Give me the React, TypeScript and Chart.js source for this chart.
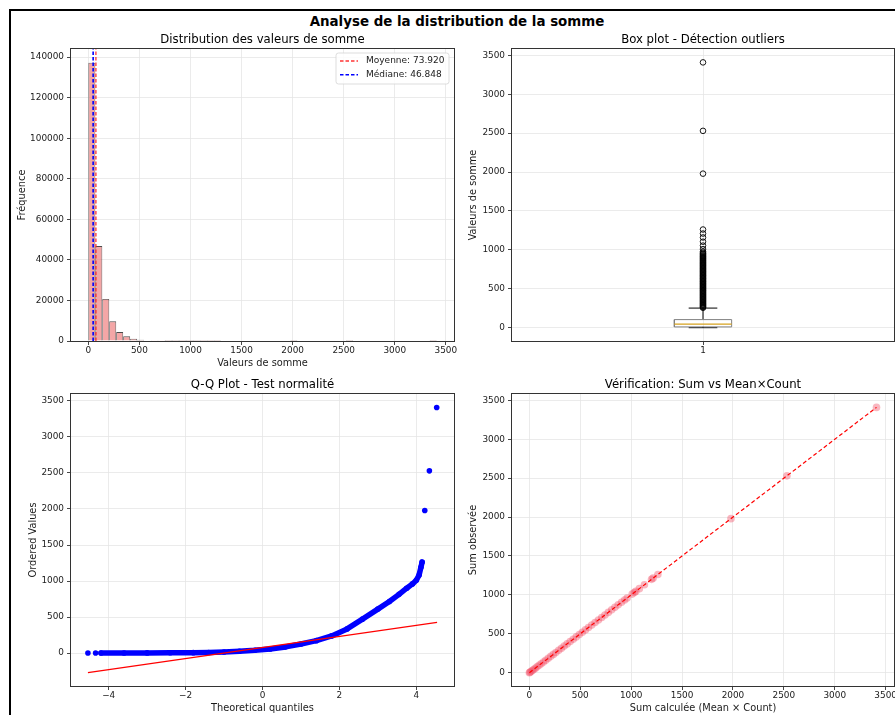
import React, { useEffect, useRef } from 'react';
import { Chart, registerables } from 'chart.js';

Chart.register(...registerables);

const FONT = "'DejaVu Sans', 'Liberation Sans', sans-serif";
const TEXT = '#1a1a1a';
const GRID = '#e6e6e6';
const SPINE = '#333333';

// ---------------- Panel 1 : histogram ----------------
const HIST_MIN = 0;
const HIST_MAX = 3410;
const HIST_COUNTS = [
  137200, 46800, 20700, 9700, 4400, 2300, 1100, 600, 300, 160,
  80, 40, 22, 12, 6, 4, 2, 2, 1, 0,
  0, 0, 0, 0, 0, 0, 0, 0, 0, 1,
  0, 0, 0, 0, 0, 0, 0, 1, 0, 0,
  0, 0, 0, 0, 0, 0, 0, 0, 0, 1,
];
const MEAN = 73.92;
const MEDIAN = 46.848;
const HIST_X_TICKS = [0, 500, 1000, 1500, 2000, 2500, 3000, 3500];
const HIST_Y_TICKS = [0, 20000, 40000, 60000, 80000, 100000, 120000, 140000];
const HIST_Y_MAX = 144000;

// ---------------- Panel 2 : box plot ----------------
const BOX_Q1 = 10;
const BOX_MEDIAN = 46.848;
const BOX_Q3 = 104;
const BOX_WHISKER_LO = 0;
const BOX_WHISKER_HI = 252;
const BOX_OUTLIERS = [
  256, 265, 274, 283, 292, 301, 311, 320, 330, 339, 349, 358, 368, 377, 387, 396,
  406, 415, 425, 434, 444, 454, 463, 473, 482, 492, 502, 511, 521, 531, 540, 550,
  560, 569, 579, 589, 598, 608, 618, 628, 637, 647, 657, 667, 676, 686, 696, 706,
  716, 725, 735, 745, 755, 765, 775, 785, 795, 805, 815, 825, 835, 845, 856, 866,
  876, 887, 897, 908, 918, 929, 940, 951, 962, 977,
  1010, 1055, 1105, 1160, 1210, 1262, 1980, 2530, 3410,
];
const BOX_X_TICKS = [1];
const VAL_TICKS = [0, 500, 1000, 1500, 2000, 2500, 3000, 3500];

// ---------------- Panel 3 : Q-Q plot ----------------
const QQ_CURVE_X = [-4.2, -3.6, -3.0, -2.4, -1.8, -1.4, -1.0, -0.6, -0.2, 0.2, 0.6, 1.0, 1.4, 1.8, 2.2, 2.6, 3.0, 3.3, 3.55, 3.75, 3.9, 4.0, 4.07, 4.12, 4.15];
const QQ_CURVE_Y = [0, 1, 1.5, 3, 5, 8, 14, 24, 38, 57, 85, 125, 172, 238, 335, 470, 610, 715, 815, 900, 960, 1010, 1080, 1190, 1262];
const QQ_OUT_X = [-4.54, -4.34, 4.22, 4.34, 4.53];
const QQ_OUT_Y = [0, 0, 1980, 2530, 3410];
const QQ_LINE_X = [-4.54, 4.54];
const QQ_LINE_Y = [-273, 426];
const QQ_X_TICKS = [-4, -2, 0, 2, 4];

// ---------------- Panel 4 : Sum vs Mean x Count ----------------
const SUM_CALC = [
  0, 5, 15, 28, 42, 58, 75, 95, 115, 138, 160, 185, 210, 235, 260, 288, 315, 342,
  370, 400, 430, 460, 490, 520, 550, 580, 612, 645, 678, 710, 742, 775, 808, 840,
  872, 905, 935, 960, 1010, 1030, 1045, 1080, 1130, 1200, 1215, 1262, 1980, 2530, 3410,
];
const SUM_OBS = SUM_CALC.slice();
const DIAG_X = [0, 3410];
const DIAG_Y = [0, 3410];

// ---------------- helpers ----------------
const minusFmt = (v: number) => (v < 0 ? '\u2212' + Math.abs(v) : String(v));

function scaleCfg(o: {
  axis: 'x' | 'y'; min: number; max: number; ticks: number[];
  title?: string; titlePad?: number; size: number; fmt?: (v: number) => string;
}) {
  const isX = o.axis === 'x';
  return {
    type: 'linear',
    position: isX ? 'bottom' : 'left',
    min: o.min,
    max: o.max,
    offset: false,
    afterBuildTicks: (s: any) => { s.ticks = o.ticks.map((v) => ({ value: v })); },
    afterFit: (s: any) => { if (isX) s.height = o.size; else s.width = o.size; },
    grid: {
      display: true, offset: false, color: GRID, lineWidth: 0.8,
      drawTicks: true, tickLength: 4, tickColor: SPINE, tickWidth: 0.9,
    },
    border: { display: false },
    ticks: {
      font: { family: FONT, size: 8.9 },
      color: TEXT,
      padding: isX ? 0.5 : 3,
      maxRotation: 0,
      autoSkip: false,
      includeBounds: false,
      callback: (v: number) => (o.fmt ? o.fmt(v) : String(v)),
    },
    title: o.title
      ? {
          display: true, text: o.title, color: TEXT,
          font: { family: FONT, size: 9.8, lineHeight: 1.2 },
          padding: isX ? { top: 0, bottom: o.titlePad } : { top: o.titlePad, bottom: 0 },
        }
      : { display: false },
  };
}

function titleCfg(text: string) {
  return {
    display: true, text, fullSize: false, color: '#000',
    font: { family: FONT, size: 11.7, weight: 'normal', lineHeight: 1.2 },
    padding: { top: 6.96, bottom: 2 },
  };
}

const framePlugin = {
  id: 'frame',
  afterDraw(chart: any) {
    const { ctx, chartArea: a } = chart;
    ctx.save();
    ctx.strokeStyle = SPINE;
    ctx.lineWidth = 1;
    ctx.strokeRect(a.left - 0.5, a.top - 0.5, a.right - a.left + 1, a.bottom - a.top + 1);
    ctx.restore();
  },
};

const histLegendPlugin = {
  id: 'histLegend',
  afterDraw(chart: any) {
    const { ctx, chartArea: a } = chart;
    const items = chart.data.datasets.filter((d: any) => d.type === 'line');
    const w = 113, h = 31, rowH = 13.7;
    const x0 = a.right - 5 - w, y0 = a.top + 4;
    ctx.save();
    ctx.beginPath();
    ctx.roundRect(x0, y0, w, h, 2.5);
    ctx.fillStyle = 'rgba(255,255,255,0.85)';
    ctx.fill();
    ctx.strokeStyle = '#d4d4d4';
    ctx.lineWidth = 0.8;
    ctx.stroke();
    items.forEach((d: any, i: number) => {
      const cy = y0 + 8 + i * rowH;
      ctx.beginPath();
      ctx.setLineDash(d.borderDash || []);
      ctx.strokeStyle = d.borderColor;
      ctx.lineWidth = d.borderWidth;
      ctx.moveTo(x0 + 4, cy);
      ctx.lineTo(x0 + 22, cy);
      ctx.stroke();
      ctx.setLineDash([]);
      ctx.fillStyle = TEXT;
      ctx.font = `9px ${FONT}`;
      ctx.textBaseline = 'middle';
      ctx.textAlign = 'left';
      ctx.fillText(d.label, x0 + 30, cy);
    });
    ctx.restore();
  },
};

function seg(points: { x: number; y: number }[], color: string, width: number, extra: any = {}) {
  return {
    data: points, showLine: true, borderColor: color, borderWidth: width,
    pointRadius: 0, fill: false, tension: 0, ...extra,
  };
}

const baseOptions = (padRight: number, title: string, scales: any, extra: any = {}) => ({
  responsive: false,
  animation: false,
  events: [],
  layout: { padding: { left: 0, top: 0, right: padRight, bottom: 0 } },
  plugins: { legend: { display: false }, tooltip: { enabled: false }, title: titleCfg(title) },
  scales,
  ...extra,
});

// ---------------- chart configs ----------------
function histConfig(): any {
  const width = (HIST_MAX - HIST_MIN) / HIST_COUNTS.length;
  const bars = HIST_COUNTS.map((c, i) => ({ x: HIST_MIN + (i + 0.5) * width, y: c > 0 ? c : null }));
  return {
    type: 'bar',
    data: {
      datasets: [
        {
          type: 'line', label: `Moyenne: ${MEAN.toFixed(3)}`,
          data: [{ x: MEAN, y: 0 }, { x: MEAN, y: HIST_Y_MAX }],
          borderColor: 'rgba(255,30,30,0.9)', borderWidth: 1.3, borderDash: [3.5, 2],
          pointRadius: 0, order: 2,
        },
        {
          type: 'line', label: `Médiane: ${MEDIAN.toFixed(3)}`,
          data: [{ x: MEDIAN, y: 0 }, { x: MEDIAN, y: HIST_Y_MAX }],
          borderColor: '#0000ff', borderWidth: 1.6, borderDash: [3.5, 2],
          pointRadius: 0, order: 1,
        },
        {
          type: 'bar', data: bars,
          backgroundColor: 'rgba(240,128,128,0.7)', borderColor: 'rgba(0,0,0,0.7)',
          borderWidth: 0.8, borderSkipped: 'start', inflateAmount: 0,
          barPercentage: 1, categoryPercentage: 1, order: 3,
        },
      ],
    },
    options: baseOptions(16, 'Distribution des valeurs de somme', {
      x: scaleCfg({ axis: 'x', min: -170, max: 3580, ticks: HIST_X_TICKS, title: 'Valeurs de somme', titlePad: 3.12, size: 31 }),
      y: scaleCfg({ axis: 'y', min: 0, max: HIST_Y_MAX, ticks: HIST_Y_TICKS, title: 'Fréquence', titlePad: 4.12, size: 59 }),
    }),
    plugins: [framePlugin, histLegendPlugin],
  };
}

function boxConfig(): any {
  const c = 1, bh = 0.075, ch = 0.0375;
  return {
    type: 'scatter',
    data: {
      datasets: [
        seg([{ x: c - bh, y: BOX_MEDIAN }, { x: c + bh, y: BOX_MEDIAN }], '#d6a21e', 1.2, { order: 1 }),
        seg([{ x: c - bh, y: BOX_Q1 }, { x: c + bh, y: BOX_Q1 }, { x: c + bh, y: BOX_Q3 }, { x: c - bh, y: BOX_Q3 }, { x: c - bh, y: BOX_Q1 }], '#808080', 1, { order: 2 }),
        seg([{ x: c, y: BOX_Q3 }, { x: c, y: BOX_WHISKER_HI }], '#000', 1, { order: 3 }),
        seg([{ x: c - ch, y: BOX_WHISKER_HI }, { x: c + ch, y: BOX_WHISKER_HI }], '#000', 1, { order: 3 }),
        seg([{ x: c, y: BOX_Q1 }, { x: c, y: BOX_WHISKER_LO }], '#000', 1, { order: 3 }),
        seg([{ x: c - ch, y: BOX_WHISKER_LO }, { x: c + ch, y: BOX_WHISKER_LO }], '#000', 1, { order: 3 }),
        {
          data: BOX_OUTLIERS.map((y) => ({ x: c, y })), showLine: false,
          pointRadius: 2.8, pointBorderWidth: 0.9, pointBackgroundColor: 'rgba(0,0,0,0)',
          pointBorderColor: '#000', order: 4,
        },
      ],
    },
    options: baseOptions(26, 'Box plot - Détection outliers', {
      x: scaleCfg({ axis: 'x', min: 0.5, max: 1.5, ticks: BOX_X_TICKS, size: 31 }),
      y: scaleCfg({ axis: 'y', min: -171, max: 3582, ticks: VAL_TICKS, title: 'Valeurs de somme', titlePad: 7.12, size: 52 }),
    }),
    plugins: [framePlugin],
  };
}

function qqConfig(): any {
  return {
    type: 'scatter',
    data: {
      datasets: [
        seg(QQ_LINE_X.map((x, i) => ({ x, y: QQ_LINE_Y[i] })), '#ff0000', 1.2, { order: 1 }),
        {
          data: QQ_CURVE_X.map((x, i) => ({ x, y: QQ_CURVE_Y[i] })), showLine: true,
          borderColor: '#0000ff', borderWidth: 5.5, borderCapStyle: 'round', borderJoinStyle: 'round',
          pointRadius: 2.8, pointBackgroundColor: '#0000ff', pointBorderWidth: 0, tension: 0, order: 2,
        },
        {
          data: QQ_OUT_X.map((x, i) => ({ x, y: QQ_OUT_Y[i] })), showLine: false,
          pointRadius: 2.8, pointBackgroundColor: '#0000ff', pointBorderWidth: 0, order: 2,
        },
      ],
    },
    options: baseOptions(16, 'Q-Q Plot - Test normalité', {
      x: scaleCfg({ axis: 'x', min: -4.98, max: 4.98, ticks: QQ_X_TICKS, title: 'Theoretical quantiles', titlePad: 6.12, size: 34, fmt: minusFmt }),
      y: scaleCfg({ axis: 'y', min: -458, max: 3597, ticks: VAL_TICKS, title: 'Ordered Values', titlePad: 15.12, size: 59 }),
    }),
    plugins: [framePlugin],
  };
}

function sumConfig(): any {
  return {
    type: 'scatter',
    data: {
      datasets: [
        seg(DIAG_X.map((x, i) => ({ x, y: DIAG_Y[i] })), '#ff0000', 1.2, { borderDash: [4, 2.5], order: 1 }),
        {
          data: SUM_CALC.map((x, i) => ({ x, y: SUM_OBS[i] })), showLine: false,
          pointRadius: 3.8, pointBackgroundColor: 'rgba(240,80,105,0.42)', pointBorderWidth: 0, order: 2,
        },
      ],
    },
    options: baseOptions(26, 'Vérification: Sum vs Mean×Count', {
      x: scaleCfg({ axis: 'x', min: -171, max: 3582, ticks: VAL_TICKS, title: 'Sum calculée (Mean × Count)', titlePad: 6.12, size: 34 }),
      y: scaleCfg({ axis: 'y', min: -171, max: 3582, ticks: VAL_TICKS, title: 'Sum observée', titlePad: 7.12, size: 52 }),
    }),
    plugins: [framePlugin],
  };
}

function ChartCanvas({ l, t, w, h, build }: { l: number; t: number; w: number; h: number; build: () => any }) {
  const ref = useRef<HTMLCanvasElement>(null);
  useEffect(() => {
    const chart = new Chart(ref.current as HTMLCanvasElement, build());
    return () => chart.destroy();
  }, []);
  return (
    <canvas
      ref={ref}
      width={w}
      height={h}
      style={{ position: 'absolute', left: l, top: t, width: w, height: h }}
    />
  );
}

export default function App() {
  return (
    <div style={{ position: 'fixed', left: 0, top: 0, width: 895, height: 715, overflow: 'hidden', background: '#fff' }}>
      <div style={{ position: 'absolute', left: 9, top: 9, width: 2000, height: 2000, borderLeft: '2px solid #000', borderTop: '2px solid #000' }} />
      <div
        style={{
          position: 'absolute', left: 0, width: 914, top: 14, textAlign: 'center',
          fontFamily: FONT, fontWeight: 'bold', fontSize: 13.4, lineHeight: '16px', color: '#000',
        }}
      >
        Analyse de la distribution de la somme
      </div>
      <ChartCanvas l={12} t={26} w={458} h={346} build={histConfig} />
      <ChartCanvas l={460} t={26} w={460} h={346} build={boxConfig} />
      <ChartCanvas l={12} t={371} w={458} h={349} build={qqConfig} />
      <ChartCanvas l={460} t={371} w={460} h={349} build={sumConfig} />
    </div>
  );
}
